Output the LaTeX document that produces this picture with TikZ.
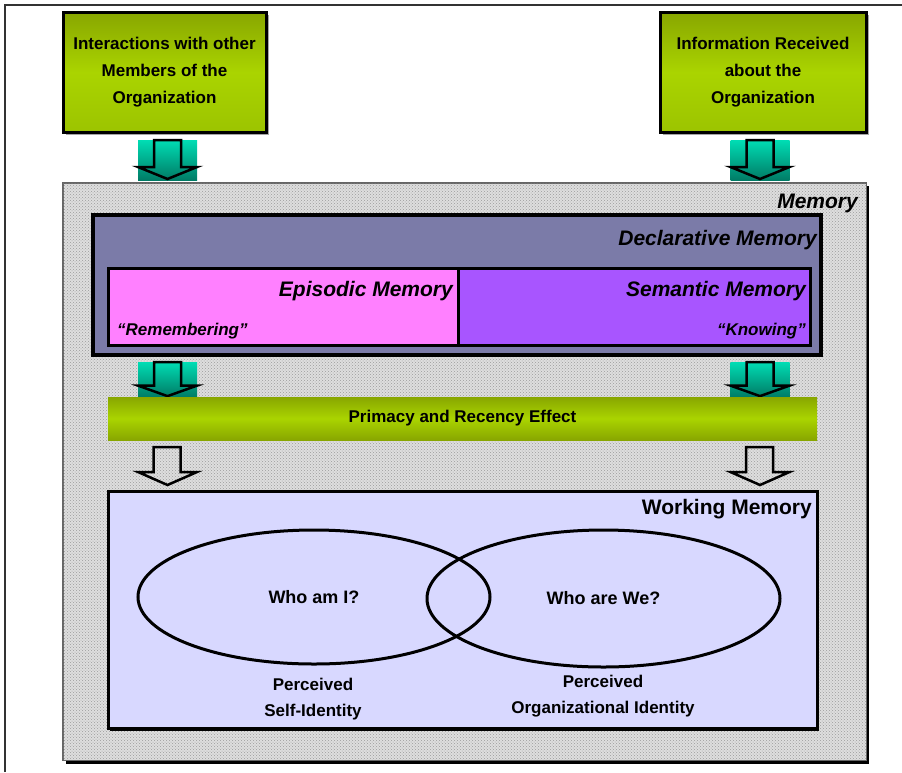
\documentclass[tikz,border=0pt]{standalone}
\usepackage{fontspec}
\setmainfont{Liberation Sans}
\usetikzlibrary{patterns,shapes.geometric}
\definecolor{gdark}{HTML}{88A600}
\definecolor{glight}{HTML}{AAD400}
\definecolor{gmid}{HTML}{9CC400}
\definecolor{tealtop}{HTML}{00DDB4}
\definecolor{tealbot}{HTML}{007C66}
\definecolor{slate}{HTML}{7B7BA8}
\definecolor{pinkm}{HTML}{FF80FF}
\definecolor{violetm}{HTML}{A855FF}
\definecolor{lav}{HTML}{D8D8FF}
\definecolor{hatchbg}{HTML}{DEDEDE}
\definecolor{hatchfg}{HTML}{9C9C9C}
\tikzset{
  greenbox/.style={draw=black, line width=3pt, top color=gdark, bottom color=gmid, middle color=glight,
    inner sep=0pt, align=center, font=\fontsize{17}{27}\selectfont\bfseries},
  barbox/.style={top color=gdark, bottom color=gdark, middle color=glight, inner sep=0pt,
    font=\fontsize{17}{20}\selectfont\bfseries},
  memorybox/.style={draw=black!60, line width=1pt},
  hatchfill/.style={pattern=crosshatch dots, pattern color=hatchfg},
  declbox/.style={draw=black, line width=4pt, fill=slate},
  subbox/.style={draw=black, line width=3pt},
  workbox/.style={draw=black, line width=3pt, fill=lav},
  lbl/.style={inner sep=0pt, font=\fontsize{21}{25}\selectfont\bfseries\itshape},
  ulbl/.style={inner sep=0pt, font=\fontsize{21}{25}\selectfont\bfseries},
  qlbl/.style={inner sep=0pt, font=\fontsize{17}{20}\selectfont\bfseries\itshape},
  txt/.style={inner sep=0pt, align=center, font=\fontsize{17}{26}\selectfont\bfseries},
  idell/.style={draw=black, line width=3pt, ellipse, inner sep=0pt, font=\fontsize{18}{20}\selectfont\bfseries},
  pics/tealarrow/.style={code={
    \shade[top color=tealtop, bottom color=tealbot] (-29.5,-20) rectangle (29.5,20);
    \draw[line width=2.5pt, line join=miter, top color=tealtop, bottom color=tealbot]
      (-13.5,-20) -- (13.5,-20) -- (13.5,7) -- (29.5,7) -- (0,19) -- (-29.5,7) -- (-13.5,7) -- cycle;
  }},
  pics/whitearrow/.style={code={
    \draw[line width=2.5pt, line join=miter]
      (-14,-19) -- (13,-19) -- (13,6) -- (29.5,6) -- (0,19) -- (-29.5,6) -- (-14,6) -- cycle;
  }}
}
\begin{document}
\begin{tikzpicture}[x=1pt,y=-1pt]
\useasboundingbox (0,0) rectangle (902,772);
\fill[white] (0,0) rectangle (902,772);
\draw[line width=2pt, black!80] (5,772) -- (5,5) -- (902,5);

% top boxes
\fill[black!35] (66,15) rectangle (269,135);
\fill[black!35] (663,15) rectangle (869,135);
\node[greenbox, minimum width=203pt, minimum height=120pt] (inter) at (164.5,72)
  {Interactions with other\\Members of the\\Organization};
\node[greenbox, minimum width=206pt, minimum height=120pt] (info) at (763,72)
  {Information Received\\about the\\Organization};

\pic at (167.5,160) {tealarrow};
\pic at (760,160) {tealarrow};

% memory
\fill[black] (66,186) rectangle (869,764);
\node[memorybox, fill=hatchbg, minimum width=803pt, minimum height=577pt] (memory) at (464.5,471.5) {};
\fill[hatchfill] (memory.north west) rectangle (memory.south east);
\draw[black!60, line width=1pt] (memory.north west) rectangle (memory.south east);
\node[lbl, anchor=east] (memlbl) at (858,203) {Memory};

% declarative
\node[declbox, minimum width=728pt, minimum height=140pt] (decl) at (457,285) {};
\node[lbl, anchor=east] (decllbl) at (817,240) {Declarative Memory};
\node[subbox, fill=pinkm, minimum width=350pt, minimum height=77pt] (epi) at (283,306.5) {};
\node[subbox, fill=violetm, minimum width=352pt, minimum height=77pt] (sem) at (634,306.5) {};
\node[lbl, anchor=east] (epilbl) at (453,291) {Episodic Memory};
\node[lbl, anchor=east] (semlbl) at (806,291) {Semantic Memory};
\node[qlbl, anchor=west] (rem) at (117,331) {“Remembering”};
\node[qlbl, anchor=east] (know) at (806,331) {“Knowing”};

\pic[yscale=0.875] at (167.5,379.5) {tealarrow};
\pic[yscale=0.875] at (760,379.5) {tealarrow};

% primacy bar
\node[barbox, minimum width=709pt, minimum height=43pt] (prim) at (462.5,418.5) {Primacy and Recency Effect};

\pic at (167.5,466) {whitearrow};
\pic at (760,466) {whitearrow};

% working memory
\fill[black] (110,494) rectangle (819,731);
\node[workbox, minimum width=709pt, minimum height=237pt] (work) at (462.5,609.5) {};
\node[ulbl, anchor=east] (worklbl) at (812,509) {Working Memory};

\node[idell, minimum width=352pt, minimum height=134pt] (self) at (314,597) {Who am I?};
\node[idell, minimum width=353pt, minimum height=137pt] (org) at (603.5,598.5) {Who are We?};

\node[txt] (selfid) at (313,699) {Perceived\\Self-Identity};
\node[txt] (orgid) at (603,696) {Perceived\\Organizational Identity};
\end{tikzpicture}
\end{document}
